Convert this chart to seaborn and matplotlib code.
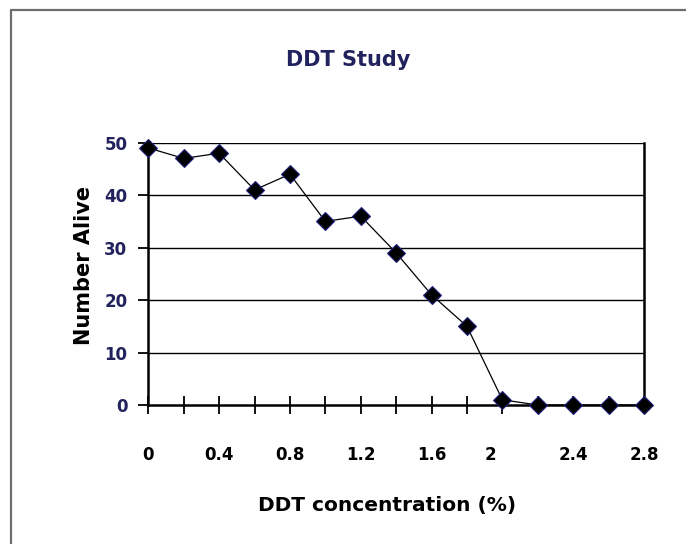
import matplotlib
matplotlib.use("Agg")
import matplotlib.pyplot as plt
import matplotlib.transforms as mtransforms
import seaborn as sns
import pandas as pd

concentration = [0.0, 0.2, 0.4, 0.6, 0.8, 1.0, 1.2, 1.4, 1.6, 1.8, 2.0, 2.2, 2.4, 2.6, 2.8]
alive = [49, 47, 48, 41, 44, 35, 36, 29, 21, 15, 1, 0, 0, 0, 0]
x_tick_labels = ["0", "", "0.4", "", "0.8", "", "1.2", "", "1.6", "", "2", "", "2.4", "", "2.8"]
y_ticks = [0, 10, 20, 30, 40, 50]

df = pd.DataFrame({"conc": concentration, "alive": alive})

sns.set_style("white")
plt.rcParams["font.family"] = ["DejaVu Sans"]

navy = "#22225e"
fig = plt.figure(figsize=(6.86, 5.44), dpi=100)
ax = fig.add_axes([148.3 / 686, 1 - 405 / 544, (644 - 148.3) / 686, (405 - 142.7) / 544])

for yv in y_ticks[1:]:
    ax.axhline(yv, color="black", linewidth=1.0, zorder=1)

sns.lineplot(data=df, x="conc", y="alive", ax=ax, color="black", linewidth=0.9,
             marker="D", markersize=9, markerfacecolor="black",
             markeredgecolor="#20207a", markeredgewidth=0.8, clip_on=False, zorder=5)

ax.set_xlim(0, 2.8)
ax.set_ylim(0, 50)
ax.set_xticks(concentration)
ax.set_xticklabels(x_tick_labels)
ax.set_yticks(y_ticks)
ax.set_xlabel("")
ax.set_ylabel("")

for s in ["left", "bottom", "right"]:
    ax.spines[s].set_visible(True)
    ax.spines[s].set_color("black")
    ax.spines[s].set_linewidth(1.8)
ax.spines["top"].set_visible(False)

ax.tick_params(axis="x", direction="inout", length=13, width=1.3, color="black",
               pad=23, labelsize=12, labelcolor="black", bottom=True)
ax.tick_params(axis="y", direction="out", length=7, width=1.3, color="black",
               pad=8, labelsize=12, labelcolor=navy, left=True)
for lab in ax.get_xticklabels() + ax.get_yticklabels():
    lab.set_fontweight("bold")

# "2" label sits slightly left of its tick in the original
for lab in ax.get_xticklabels():
    if lab.get_text() == "2":
        lab.set_transform(lab.get_transform() + mtransforms.ScaledTranslation(-12 / 100, 0, fig.dpi_scale_trans))

fig.text(348 / 686, 1 - 60 / 544, "DDT Study", ha="center", va="center",
         fontsize=15, fontweight="bold", color=navy)
fig.text(387 / 686, 1 - 505 / 544, "DDT concentration (%)", ha="center", va="center",
         fontsize=14.5, fontweight="bold", color="black")
fig.text(84 / 686, 1 - 265 / 544, "Number Alive", ha="center", va="center",
         rotation=90, fontsize=15, fontweight="bold", color="black")

# outer chart border (top and left only visible)
fig.add_artist(plt.Line2D([10.5 / 686, 1.0], [1 - 10 / 544, 1 - 10 / 544],
                          transform=fig.transFigure, color="#6e6e6e", linewidth=1.6))
fig.add_artist(plt.Line2D([10.5 / 686, 10.5 / 686], [0.0, 1 - 10 / 544],
                          transform=fig.transFigure, color="#6e6e6e", linewidth=1.6))

fig.savefig("out.png", dpi=100)
